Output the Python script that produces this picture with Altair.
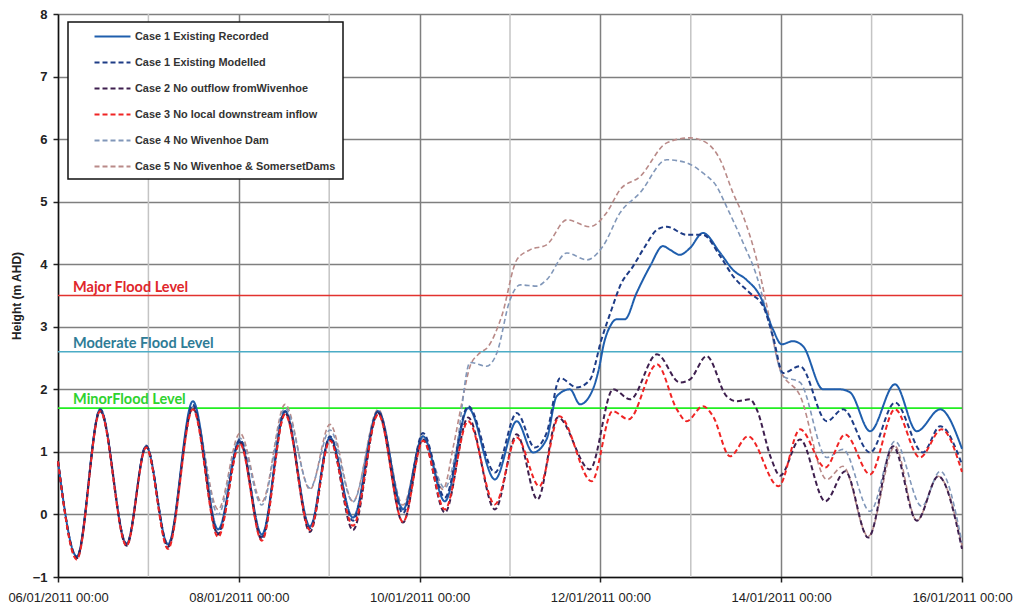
import altair as alt
import pandas as pd

# ---- series: hours after 06/01/2011 00:00 and river height (m AHD) ----
SERIES = [
    "Case 1 Existing Recorded",
    "Case 1 Existing Modelled",
    "Case 2 No outflow fromWivenhoe",
    "Case 3 No local downstream inflow",
    "Case 4 No Wivenhoe Dam",
    "Case 5 No Wivenhoe & SomersetDams",
]
COLORS = ["#1F5EAD", "#1E3C86", "#3E1F4E", "#F02424", "#8197B9", "#B98A88"]
DASHES = [[1, 0], [5, 3], [5, 3], [5, 3], [5, 3], [5, 3]]
WIDTHS = [2.0, 2.0, 2.0, 2.0, 1.6, 1.6]

rec_h = [0, 5.0, 11.2, 18.2, 23.4, 29.2, 35.8, 42.5, 48.3, 54.1, 60.3, 66.9, 72.2, 78.3,
         85.0, 91.6, 96.9, 102.7, 108.9, 116.0, 121.8, 126.1, 129.7, 132.4, 135.9, 138.6,
         142.0, 143.5, 145.0, 146.6, 148.3, 150.5, 153.6, 157.2, 160.6, 162.5, 165.1, 167.8,
         171.2, 175.8, 179.2, 182.8, 186.4, 189.8, 192.1, 195.1, 197.8, 203.1, 207.6, 210.3,
         215.6, 222.2, 228.0, 234.2, 240]
rec_v = [0.85, -0.67, 1.68, -0.47, 1.09, -0.48, 1.81, -0.24, 1.17, -0.32, 1.65, -0.19, 1.23, -0.05,
         1.65, 0.08, 1.25, 0.21, 1.70, 0.56, 1.49, 0.99, 1.20, 1.89, 2.00, 1.76,
         2.00, 2.30, 2.75, 3.01, 3.12, 3.12, 3.54, 3.97, 4.29, 4.23, 4.15, 4.26,
         4.50, 4.18, 3.91, 3.75, 3.49, 2.96, 2.72, 2.77, 2.69, 2.00, 2.00, 1.95,
         1.33, 2.08, 1.33, 1.68, 1.05]

mod_h = [0, 5.0, 11.2, 18.2, 23.4, 29.2, 35.8, 42.5, 48.3, 54.1, 60.3, 66.9, 72.2, 78.3,
         85.0, 91.6, 96.9, 102.7, 108.9, 116.0, 121.8, 126.6, 129.7, 133.3, 137.7, 141.2,
         144.3, 147.1, 149.2, 152.7, 156.0, 159.0, 161.6, 166.9, 171.2, 175.8, 179.2, 183.7,
         187.2, 189.8, 192.5, 197.0, 204.1, 208.4, 215.6, 222.2, 229.6, 234.2, 240]
mod_v = [0.85, -0.68, 1.68, -0.47, 1.10, -0.50, 1.75, -0.30, 1.20, -0.36, 1.65, -0.22, 1.25, -0.10,
         1.65, 0.02, 1.30, 0.27, 1.73, 0.67, 1.62, 1.07, 1.30, 2.18, 2.03, 2.15,
         2.80, 3.30, 3.65, 3.97, 4.30, 4.55, 4.60, 4.47, 4.47, 4.13, 3.81, 3.54,
         3.33, 2.85, 2.26, 2.37, 1.49, 1.68, 0.99, 1.79, 0.99, 1.41, 0.80]

c2_h = [0, 5.0, 11.2, 18.2, 23.4, 29.2, 35.8, 42.5, 48.3, 54.1, 60.3, 66.9, 72.2, 78.3,
        85.0, 91.6, 96.9, 102.7, 108.9, 116.0, 121.8, 127.3, 132.7, 141.2, 147.4, 151.9,
        159.0, 165.1, 167.8, 172.2, 177.5, 180.2, 183.7, 185.5, 189.3, 191.7, 197.0, 203.7,
        209.0, 215.1, 221.7, 228.0, 233.7, 240]
c2_v = [0.85, -0.70, 1.65, -0.50, 1.08, -0.52, 1.70, -0.32, 1.15, -0.40, 1.62, -0.28, 1.20, -0.25,
        1.62, -0.13, 1.20, 0.03, 1.55, 0.08, 1.28, 0.24, 1.55, 0.72, 2.00, 1.84,
        2.56, 2.11, 2.16, 2.53, 1.89, 1.81, 1.84, 1.68, 0.90, 0.62, 1.20, 0.21,
        0.69, -0.37, 1.09, -0.10, 0.61, -0.55]

c3_h = [0, 5.0, 11.2, 18.2, 23.4, 29.2, 35.8, 42.5, 48.3, 54.1, 60.3, 66.9, 72.2, 78.3,
        85.0, 91.6, 96.9, 102.7, 108.9, 116.0, 121.8, 127.8, 133.1, 141.7, 147.2, 151.5,
        159.0, 164.3, 166.9, 171.2, 173.9, 178.4, 183.2, 191.3, 197.0, 203.7, 209.0, 215.6,
        222.2, 228.8, 234.6, 240]
c3_v = [0.85, -0.72, 1.65, -0.50, 1.07, -0.55, 1.68, -0.36, 1.13, -0.42, 1.60, -0.25, 1.18, -0.18,
        1.60, -0.12, 1.18, 0.08, 1.49, 0.16, 1.23, 0.45, 1.57, 0.53, 1.65, 1.52,
        2.40, 1.68, 1.49, 1.73, 1.57, 0.93, 1.25, 0.45, 1.36, 0.75, 1.28, 0.64,
        1.68, 0.91, 1.36, 0.68]

c4_h = [0, 5.0, 11.2, 18.2, 23.4, 29.2, 35.8, 42.5, 48.3, 54.1, 60.3, 66.9, 72.2, 78.3,
        85.0, 91.6, 96.9, 102.7, 105.6, 109.4, 113.8, 116.5, 120.0, 122.7, 127.1, 129.7,
        135.1, 140.4, 144.7, 149.2, 154.5, 161.6, 166.9, 171.2, 174.9, 177.5, 181.9, 185.5,
        189.0, 192.5, 197.0, 204.1, 208.4, 215.6, 222.2, 229.3, 234.2, 240]
c4_v = [0.85, -0.68, 1.68, -0.47, 1.10, -0.47, 1.72, 0.00, 1.22, 0.15, 1.70, 0.42, 1.35, 0.20,
        1.65, 0.10, 1.22, 0.42, 1.00, 2.43, 2.37, 2.58, 3.43, 3.67, 3.65, 3.75,
        4.18, 4.07, 4.29, 4.82, 5.14, 5.67, 5.62, 5.46, 5.24, 4.92, 4.34, 3.81,
        3.01, 2.21, 2.11, 0.91, 1.04, 0.05, 1.17, 0.13, 0.69, -0.45]

c5_h = [0, 5.0, 11.2, 18.2, 23.4, 29.2, 35.8, 42.5, 48.3, 54.1, 60.3, 66.9, 72.2, 78.3,
        85.0, 91.6, 96.9, 102.2, 105.0, 107.4, 109.4, 111.6, 114.3, 117.8, 121.8, 125.3,
        129.7, 135.1, 141.2, 145.6, 149.2, 154.5, 161.6, 167.8, 172.2, 175.8, 179.2, 181.9,
        185.5, 188.2, 191.7, 197.0, 204.1, 208.4, 215.1, 222.2, 228.0, 233.7, 240]
c5_v = [0.85, -0.68, 1.68, -0.47, 1.10, -0.47, 1.72, 0.08, 1.30, 0.20, 1.76, 0.40, 1.44, 0.21,
        1.68, 0.15, 1.25, 0.40, 1.10, 1.84, 2.37, 2.56, 2.69, 3.17, 4.07, 4.23,
        4.31, 4.71, 4.60, 4.82, 5.19, 5.40, 5.94, 6.02, 5.94, 5.67, 5.14, 4.77,
        4.07, 3.33, 2.32, 1.90, 0.56, 0.77, -0.35, 1.09, -0.10, 0.61, -0.50]

HOURS = [rec_h, mod_h, c2_h, c3_h, c4_h, c5_h]
VALUES = [rec_v, mod_v, c2_v, c3_v, c4_v, c5_v]

# ---- flood classification levels ----
LEVEL_NAMES = ["Major Flood Level", "Moderate Flood Level", "MinorFlood Level"]
LEVEL_VALUES = [3.5, 2.6, 1.7]
LEVEL_LINE_COLORS = ["#E2322E", "#4BACC6", "#22EE22"]
LEVEL_TEXT_COLORS = ["#E0262B", "#2E7C96", "#2ED22E"]

START = pd.Timestamp("2011-01-06T00:00:00Z")
LABEL_DAYS = [0, 2, 4, 6, 8, 10]
MINOR_DAYS = [1, 3, 5, 7, 9]


def iso(ts):
    return ts.strftime("%Y-%m-%dT%H:%M:%SZ")


def ms(ts):
    return int(ts.timestamp() * 1000)


rows = []
for name, hrs, vals in zip(SERIES, HOURS, VALUES):
    for h, v in zip(hrs, vals):
        rows.append({"series": name, "t": iso(START + pd.Timedelta(hours=h)), "height": v})
df = pd.DataFrame(rows)

levels = pd.DataFrame({
    "name": LEVEL_NAMES,
    "level": LEVEL_VALUES,
    "line": LEVEL_LINE_COLORS,
    "ink": LEVEL_TEXT_COLORS,
    "t": iso(START + pd.Timedelta(hours=4)),
})
minor = pd.DataFrame({"t": [iso(START + pd.Timedelta(days=d)) for d in MINOR_DAYS]})

FONT = "Liberation Sans"
x_scale = alt.Scale(type="utc", domain=[ms(START), ms(START + pd.Timedelta(days=10))], nice=False)
y_scale = alt.Scale(domain=[-1, 8], nice=False, zero=False)

x_axis = alt.Axis(
    title=None,
    values=[ms(START + pd.Timedelta(days=d)) for d in LABEL_DAYS],
    labelExpr="utcFormat(datum.value, '%d/%m/%Y %H:%M')",
    labelFlush=False,
    labelOverlap=False,
    grid=True,
    gridColor="#7F7F7F",
    gridWidth=1.5,
    tickSize=5,
    tickColor="#222222",
    tickWidth=1.5,
    domainColor="#111111",
    domainWidth=1.5,
    labelFont=FONT,
    labelFontSize=13,
    labelColor="#222222",
    labelPadding=9,
)
y_axis = alt.Axis(
    title="Height (m AHD)",
    values=list(range(-1, 9)),
    grid=True,
    gridColor="#7F7F7F",
    gridWidth=1.5,
    tickSize=5,
    tickColor="#222222",
    tickWidth=1.5,
    domainColor="#111111",
    domainWidth=1.5,
    labelFont=FONT,
    labelFontSize=13,
    labelFontWeight="bold",
    labelColor="#222222",
    labelPadding=6,
    titleFont=FONT,
    titleFontSize=12,
    titleFontWeight="bold",
    titleColor="#222222",
    titlePadding=9,
)

# a flat custom stroke keeps the sample long while the rows stay compact
legend = alt.Legend(
    title=None,
    orient="none",
    legendX=10,
    legendY=8,
    symbolType="M-2.88,0L2.88,0",
    symbolSize=156,
    symbolStrokeWidth=2,
    labelFont=FONT,
    labelFontSize=10.9,
    labelFontWeight="bold",
    labelColor="#333333",
    labelLimit=400,
    padding=7,
    rowPadding=13,
    symbolOffset=30,
    labelOffset=15,
    strokeColor="#111111",
    fillColor="white",
)

color = alt.Color("series:N", scale=alt.Scale(domain=SERIES, range=COLORS), legend=legend)
dash = alt.StrokeDash("series:N", scale=alt.Scale(domain=SERIES, range=DASHES), legend=legend)
X = alt.X("t:T", scale=x_scale, axis=x_axis)
Y = alt.Y("height:Q", scale=y_scale, axis=y_axis)

odd_day_grid = alt.Chart(minor).mark_rule(color="#C4C4C4", strokeWidth=1.5).encode(
    x=alt.X("t:T", scale=x_scale, axis=x_axis)
)

level_lines = alt.Chart(levels).mark_rule(strokeWidth=1.6).encode(
    y=alt.Y("level:Q", scale=y_scale, axis=y_axis),
    stroke=alt.Stroke("line:N", scale=None),
)
level_text = alt.Chart(levels).mark_text(
    align="left", baseline="bottom", dy=-1, font="Lato", fontSize=14.5, fontWeight="bold"
).encode(
    x=alt.X("t:T", scale=x_scale, axis=x_axis),
    y=alt.Y("level:Q", scale=y_scale, axis=y_axis),
    text="name:N",
    fill=alt.Fill("ink:N", scale=None),
)

# pale cases underneath, recorded/modelled and the reduced-flow cases on top
draw_order = [5, 4, 0, 1, 2, 3]
series_layers = []
for i in draw_order:
    series_layers.append(
        alt.Chart(df)
        .transform_filter(alt.datum.series == SERIES[i])
        .mark_line(interpolate="monotone", strokeWidth=WIDTHS[i])
        .encode(x=X, y=Y, color=color, strokeDash=dash)
    )

chart = (
    alt.layer(odd_day_grid, level_lines, level_text, *series_layers)
    .properties(
        width=904,
        height=563,
        autosize=alt.AutoSizeParams(type="none"),
        padding={"left": 58, "top": 14, "right": 52, "bottom": 30},
        background="white",
    )
    .configure_view(stroke=None)
    .configure_legend(strokeWidth=1.5)
)

chart.save("out.html", embed_options={"renderer": "svg", "actions": False})
